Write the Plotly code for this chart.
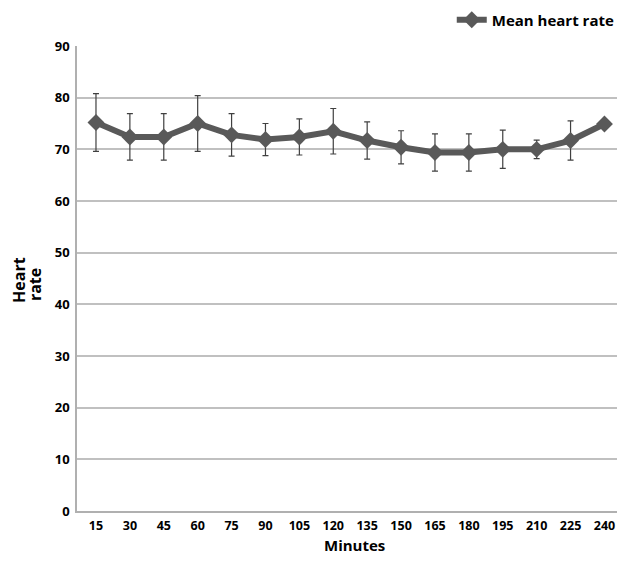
import plotly.graph_objects as go

minutes = [15, 30, 45, 60, 75, 90, 105, 120, 135, 150, 165, 180, 195, 210, 225, 240]
mean_hr = [75.2, 72.4, 72.4, 75.0, 72.8, 71.9, 72.4, 73.5, 71.7, 70.4, 69.4, 69.4, 70.0, 70.0, 71.7, 74.9]
sd_hr = [5.6, 4.5, 4.5, 5.4, 4.1, 3.1, 3.5, 4.4, 3.6, 3.2, 3.6, 3.6, 3.7, 1.8, 3.8, 0.0]
y_ticks = [0, 10, 20, 30, 40, 50, 60, 70, 80, 90]

x_labels = [str(m) for m in minutes]
FONT = "Open Sans"

fig = go.Figure()
fig.add_trace(go.Scatter(
    x=x_labels, y=mean_hr,
    mode="lines+markers",
    name="Mean heart rate",
    line=dict(color="#595959", width=6),
    marker=dict(symbol="diamond", size=13, color="#595959"),
    error_y=dict(type="data", array=sd_hr, visible=True, color="#404040",
                 thickness=1.2, width=3),
))

fig.update_layout(
    width=609, height=549,
    margin=dict(l=69, r=0, t=38, b=46, autoexpand=False),
    paper_bgcolor="white", plot_bgcolor="white",
    font=dict(family=FONT, color="black"),
    showlegend=True,
    legend=dict(x=0.694, y=1.056, xanchor="left", yanchor="middle", xref="paper", yref="paper",
                font=dict(size=15, family=FONT, weight="bold"), bgcolor="rgba(0,0,0,0)",
                itemwidth=30, orientation="h", tracegroupgap=0),
    xaxis=dict(
        type="category", categoryorder="array", categoryarray=x_labels,
        showgrid=False, showline=True, linecolor="#b0b0b0", linewidth=1.5,
        ticks="", ticklabelstandoff=2, tickfont=dict(size=12.5, family=FONT, weight="bold"),
        range=[-0.56, 15.37], automargin=False,
    ),
    yaxis=dict(
        range=[0, 90], tickvals=y_ticks, showgrid=True, gridcolor="#c0c0c0", gridwidth=1.5,
        showline=True, linecolor="#b0b0b0", linewidth=1.5, zeroline=False,
        ticks="", ticklabelstandoff=3, tickfont=dict(size=13, family=FONT, weight="bold"),
        automargin=False,
    ),
    annotations=[
        dict(text="Minutes", xref="paper", yref="paper", x=0.513, y=-0.0985,
             xanchor="center", yanchor="bottom", showarrow=False,
             font=dict(size=15, family=FONT, weight="bold")),
        dict(text="Heart", xref="paper", yref="paper", x=-0.1074, y=0.497,
             xanchor="center", yanchor="middle", showarrow=False, textangle=-90,
             font=dict(size=16, family=FONT, weight="bold")),
        dict(text="rate", xref="paper", yref="paper", x=-0.0778, y=0.488,
             xanchor="center", yanchor="middle", showarrow=False, textangle=-90,
             font=dict(size=16, family=FONT, weight="bold")),
    ],
)

fig.write_html("out.html")
